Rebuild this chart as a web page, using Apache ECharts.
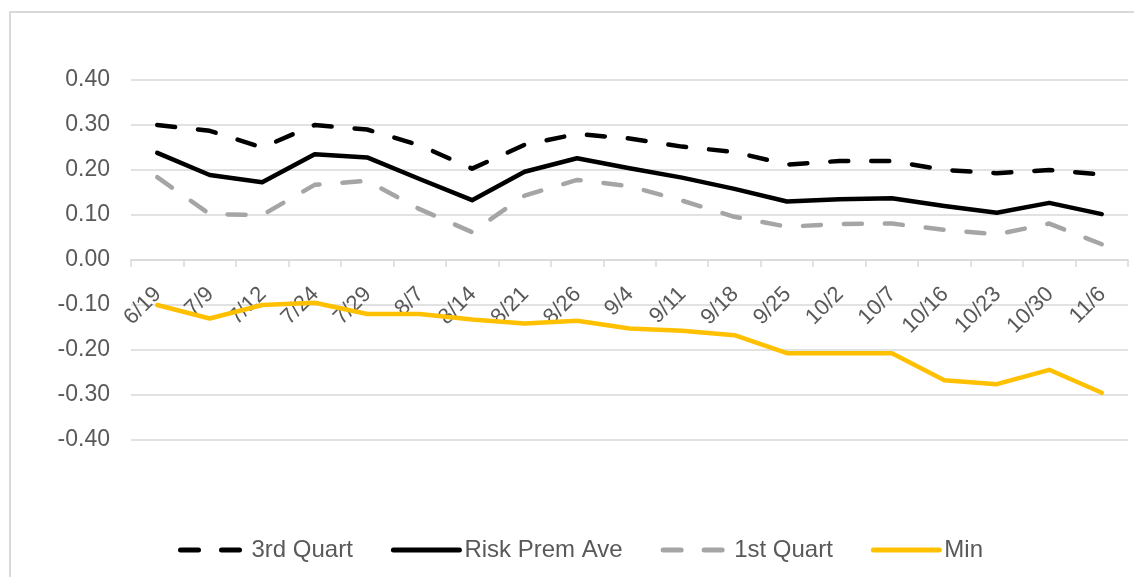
<!DOCTYPE html>
<html>
<head>
<meta charset="utf-8">
<script src="https://cdn.jsdelivr.net/npm/echarts@6/dist/echarts.min.js"></script>
<style>
  html, body { margin: 0; padding: 0; background: #ffffff; }
  #chart { width: 1134px; height: 577px; }
</style>
</head>
<body>
<div id="chart"></div>
<script>
// Weekly dates on the category axis
var dates = ['6/19', '7/9', '7/12', '7/24', '7/29', '8/7', '8/14', '8/21', '8/26', '9/4',
             '9/11', '9/18', '9/25', '10/2', '10/7', '10/16', '10/23', '10/30', '11/6'];

// Risk premium statistics per date
var thirdQuart = [0.300, 0.287, 0.250, 0.300, 0.290, 0.255, 0.203, 0.256, 0.280, 0.270,
                  0.252, 0.240, 0.212, 0.220, 0.220, 0.200, 0.193, 0.200, 0.190];
var riskPremAve = [0.238, 0.189, 0.173, 0.235, 0.228, 0.180, 0.133, 0.196, 0.226, 0.204,
                   0.183, 0.158, 0.130, 0.135, 0.137, 0.120, 0.105, 0.127, 0.102];
var firstQuart = [0.184, 0.102, 0.100, 0.167, 0.176, 0.113, 0.062, 0.143, 0.178, 0.164,
                  0.132, 0.096, 0.074, 0.080, 0.081, 0.067, 0.057, 0.081, 0.035];
var minValues = [-0.100, -0.130, -0.100, -0.095, -0.120, -0.120, -0.132, -0.141, -0.135, -0.152,
                 -0.157, -0.167, -0.207, -0.207, -0.207, -0.267, -0.276, -0.244, -0.295];

var seriesNames = ['3rd Quart', 'Risk Prem Ave', '1st Quart', 'Min'];

// Value axis range
var yMin = -0.4;
var yMax = 0.4;
var yStep = 0.1;

var textColor = '#595959';
var gridColor = '#d9d9d9';
var font = '"Liberation Sans", Arial, sans-serif';

var gridTop = 80;
var gridBottom = 137;
var plotHeight = 577 - gridTop - gridBottom;
// Raise the category axis so it sits on the zero line
var zeroOffset = -plotHeight * (0 - yMin) / (yMax - yMin);

var chart = echarts.init(document.getElementById('chart'), null, { renderer: 'canvas' });

function lineSeries(name, data, color, dashed) {
  return {
    name: name,
    type: 'line',
    data: data,
    symbol: 'none',
    smooth: false,
    lineStyle: {
      color: color,
      width: 4.5,
      type: dashed ? [18, 23] : 'solid',
      cap: 'round',
      join: 'round'
    },
    itemStyle: { color: color },
    emphasis: { disabled: true }
  };
}

chart.setOption({
  animation: false,
  backgroundColor: '#ffffff',
  textStyle: { fontFamily: font },
  graphic: [{
    type: 'rect',
    silent: true,
    shape: { x: 10, y: 12, width: 1140, height: 580 },
    style: { fill: 'none', stroke: gridColor, lineWidth: 2 }
  }],
  grid: { left: 131, right: 6, top: gridTop, bottom: gridBottom, containLabel: false },
  legend: {
    data: seriesNames,
    left: 173,
    top: 533,
    itemWidth: 66,
    itemHeight: 14,
    itemGap: 38,
    itemStyle: { opacity: 0 },
    lineStyle: { width: 5, cap: 'round' },
    textStyle: { color: textColor, fontSize: 24, fontFamily: font }
  },
  xAxis: {
    type: 'category',
    data: dates,
    boundaryGap: true,
    position: 'bottom',
    offset: zeroOffset,
    axisLine: { show: true, onZero: false, lineStyle: { color: gridColor, width: 1.5 } },
    axisTick: { show: true, length: 7, lineStyle: { color: gridColor, width: 1.5 } },
    axisLabel: {
      rotate: 45,
      margin: 16,
      align: 'right',
      verticalAlign: 'top',
      padding: [0, 10, 0, 0],
      color: textColor,
      fontSize: 22,
      fontFamily: font,
      interval: 0
    },
    splitLine: { show: false }
  },
  yAxis: {
    type: 'value',
    min: yMin,
    max: yMax,
    interval: yStep,
    axisLine: { show: false },
    axisTick: { show: false },
    axisLabel: {
      margin: 21,
      color: textColor,
      fontSize: 23,
      fontFamily: font,
      formatter: function (v) { return v.toFixed(2); }
    },
    splitLine: { show: true, lineStyle: { color: gridColor, width: 1.5 } }
  },
  series: [
    lineSeries(seriesNames[0], thirdQuart, '#000000', true),
    lineSeries(seriesNames[1], riskPremAve, '#000000', false),
    lineSeries(seriesNames[2], firstQuart, '#a5a5a5', true),
    lineSeries(seriesNames[3], minValues, '#ffc000', false)
  ]
});
</script>
</body>
</html>
